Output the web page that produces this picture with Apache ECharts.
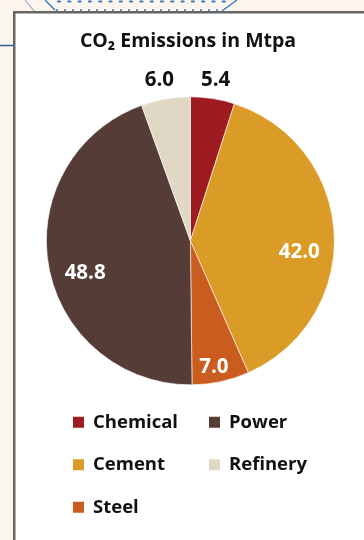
<!DOCTYPE html>
<html>
<head>
<meta charset="utf-8">
<script src="https://cdn.jsdelivr.net/npm/echarts@6/dist/echarts.min.js"></script>
<style>
  html, body { margin: 0; padding: 0; background: #fcf5ee; }
  #chart { width: 364px; height: 540px; }
</style>
</head>
<body>
<div id="chart"></div>
<script>
// CO2 emissions by sector (Mtpa)
const sectors = ['Chemical', 'Cement', 'Steel', 'Power', 'Refinery'];
const emissions = [5.4, 42.0, 7.0, 48.8, 6.0];
const sectorColors = ['#9e1c21', '#da9c26', '#c95c1e', '#563c36', '#e0d8c4'];
const legendOrder = ['Chemical', 'Power', 'Cement', 'Refinery', 'Steel'];
const outerLabelSectors = ['Chemical', 'Refinery'];

const FONT = '"Open Sans", "Noto Sans", sans-serif';
const CENTER = ['52.3%', '44.6%'];
const R = 144;

const pieData = sectors.map((name, i) => ({ name, value: emissions[i] }));

// Per-sector nudges for the value labels
const labelNudge = {
  Cement: { dx: -2, dy: 17 },
  Power: { dx: 4, dy: 13 },
  Steel: { dx: 0, dy: 18 },
  Chemical: { dx: 0, dy: 0 },
  Refinery: { dx: -3, dy: 0 }
};

function labelOnly(show) {
  return pieData.map(d => ({
    name: d.name,
    value: d.value,
    label: { show: show(d.name) }
  }));
}

const chart = echarts.init(document.getElementById('chart'), null, { renderer: 'canvas' });

const overlayCommon = {
  type: 'pie',
  center: CENTER,
  startAngle: 90,
  clockwise: true,
  silent: true,
  avoidLabelOverlap: false,
  itemStyle: { color: 'rgba(0,0,0,0)', borderWidth: 0 },
  emphasis: { disabled: true },
  labelLine: { show: false },
  labelLayout: p => labelNudge[sectors[p.dataIndex]] || {}
};

chart.setOption({
  animation: false,
  color: sectorColors,
  title: {
    text: 'CO₂ Emissions in Mtpa',
    left: 188,
    top: 31,
    padding: 0,
    textAlign: 'center',
    textStyle: { fontFamily: FONT, fontWeight: 700, fontSize: 19.5, color: '#111' }
  },
  legend: {
    data: legendOrder,
    left: 71,
    top: 412,
    width: 280,
    padding: 0,
    orient: 'horizontal',
    icon: 'rect',
    itemWidth: 13,
    itemHeight: 13,
    itemGap: 22,
    selectedMode: false,
    textStyle: {
      fontFamily: FONT,
      fontWeight: 700,
      fontSize: 18.5,
      color: '#111',
      width: 92,
      lineHeight: 20.5,
      padding: [0, 0, 0, 3]
    }
  },
  graphic: [
    { type: 'rect', silent: true, z: -20, shape: { x: 0, y: 0, width: 364, height: 540 }, style: { fill: '#fcf5ee' } },
    // decorative frame peeking above the card
    { type: 'line', silent: true, z: -15, shape: { x1: 25, y1: 0, x2: 35, y2: 12 }, style: { stroke: '#a9b8c8', lineWidth: 1.2 } },
    { type: 'polyline', silent: true, z: -15, shape: { points: [[45, 0], [55, 10]] }, style: { stroke: '#3b78b8', lineWidth: 1.4 } },
    { type: 'line', silent: true, z: -15, shape: { x1: 222, y1: 11, x2: 237, y2: 0 }, style: { stroke: '#3b78b8', lineWidth: 1.4 } },
    { type: 'line', silent: true, z: -15, shape: { x1: 58, y1: 1.5, x2: 228, y2: 1.5 }, style: { stroke: '#3b78b8', lineWidth: 2.2, lineDash: [2, 8.3], lineCap: 'round' } },
    { type: 'line', silent: true, z: -15, shape: { x1: 56, y1: 10, x2: 222, y2: 10 }, style: { stroke: '#3b78b8', lineWidth: 1.6, lineDash: [2, 6] } },
    { type: 'line', silent: true, z: -15, shape: { x1: 0, y1: 45.5, x2: 14, y2: 45.5 }, style: { stroke: '#2f5f96', lineWidth: 1.5 } },
    // white card with grey edges
    { type: 'rect', silent: true, z: -10, shape: { x: 13, y: 11, width: 351, height: 529 }, style: { fill: '#ffffff' } },
    { type: 'rect', silent: true, z: -9, shape: { x: 13, y: 11, width: 351, height: 2.5 }, style: { fill: '#666666' } },
    { type: 'rect', silent: true, z: -9, shape: { x: 13, y: 11, width: 2.5, height: 529 }, style: { fill: '#666666' } }
  ],
  series: [
    {
      name: 'Emissions',
      type: 'pie',
      center: CENTER,
      radius: [0, R],
      startAngle: 90,
      clockwise: true,
      avoidLabelOverlap: false,
      itemStyle: { borderColor: '#ffffff', borderWidth: 0.6 },
      label: { show: false },
      labelLine: { show: false },
      emphasis: { scale: false },
      data: pieData
    },
    Object.assign({}, overlayCommon, {
      name: 'inner-values',
      radius: [R * 0.5, R],
      label: {
        position: 'inside',
        formatter: p => p.value.toFixed(1),
        fontFamily: FONT, fontWeight: 700, fontSize: 20.5, color: '#ffffff'
      },
      data: labelOnly(n => outerLabelSectors.indexOf(n) < 0)
    }),
    Object.assign({}, overlayCommon, {
      name: 'outer-values',
      radius: [R + 2, R + 30],
      label: {
        position: 'inside',
        formatter: p => p.value.toFixed(1),
        fontFamily: FONT, fontWeight: 700, fontSize: 20.5, color: '#111111'
      },
      data: labelOnly(n => outerLabelSectors.indexOf(n) >= 0)
    })
  ]
});
</script>
</body>
</html>
